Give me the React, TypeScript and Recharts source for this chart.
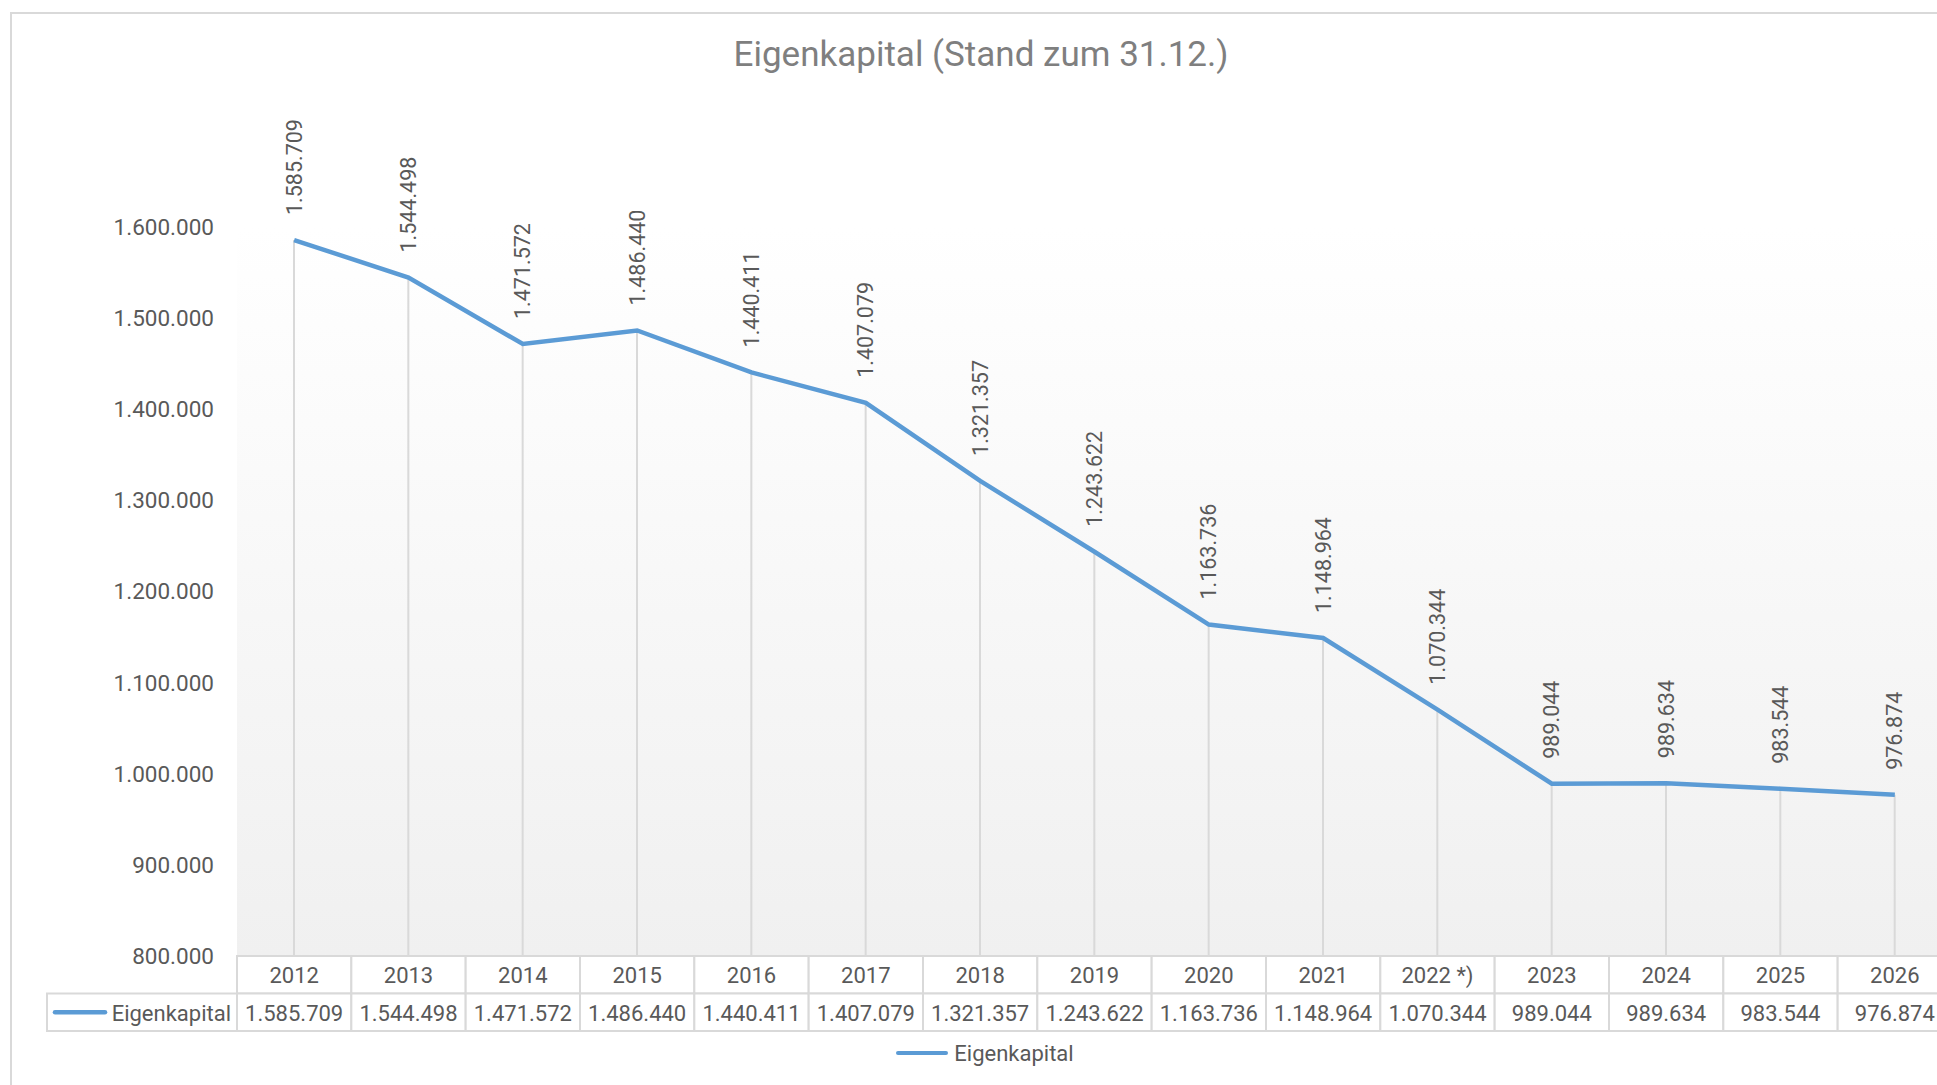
import { ComposedChart, Bar, Line, XAxis, YAxis, CartesianGrid, LabelList, Legend } from "recharts"

const years = ["2012", "2013", "2014", "2015", "2016", "2017", "2018", "2019", "2020", "2021", "2022 *)", "2023", "2024", "2025", "2026"]
const eigenkapital = [1585709, 1544498, 1471572, 1486440, 1440411, 1407079, 1321357, 1243622, 1163736, 1148964, 1070344, 989044, 989634, 983544, 976874]
const yTicks = [800000, 900000, 1000000, 1100000, 1200000, 1300000, 1400000, 1500000, 1600000]

const data = years.map((year, i) => ({ year, value: eigenkapital[i] }))

const fmt = (n: number) => String(n).replace(/\B(?=(\d{3})+(?!\d))/g, ".")

const FONT = "Roboto, 'Open Sans', sans-serif"
const TEXT = "#595959"
const GRID = "#d9d9d9"
const BLUE = "#5b9bd5"

const CHART_W = 1960
const CHART_H = 1085
const Y_AXIS_W = 237
const MARGIN_R = 8
const BAND = (CHART_W - Y_AXIS_W - MARGIN_R) / years.length
const ROW_H = 37.5

function TableTick(props: any) {
  const { x, y, payload } = props
  const i = years.indexOf(payload.value)
  const left = x - BAND / 2
  return (
    <g>
      <rect x={left} y={y} width={BAND} height={ROW_H} fill="#fff" stroke={GRID} strokeWidth={2} />
      <rect x={left} y={y + ROW_H} width={BAND} height={ROW_H} fill="#fff" stroke={GRID} strokeWidth={2} />
      <text x={x} y={y + ROW_H / 2 + 1} textAnchor="middle" dominantBaseline="central" fill={TEXT} fontSize={22} fontFamily={FONT}>
        {payload.value}
      </text>
      <text x={x} y={y + ROW_H * 1.5 + 1} textAnchor="middle" dominantBaseline="central" fill={TEXT} fontSize={22} fontFamily={FONT}>
        {fmt(eigenkapital[i])}
      </text>
      {i === 0 && (
        <g>
          <rect x={47} y={y + ROW_H} width={left - 47} height={ROW_H} fill="#fff" stroke={GRID} strokeWidth={2} />
          <line x1={55} x2={105} y1={y + ROW_H * 1.5} y2={y + ROW_H * 1.5} stroke={BLUE} strokeWidth={4.5} strokeLinecap="round" />
          <text x={left - 6} y={y + ROW_H * 1.5 + 1} textAnchor="end" dominantBaseline="central" fill={TEXT} fontSize={22} fontFamily={FONT}>
            Eigenkapital
          </text>
        </g>
      )}
    </g>
  )
}

function ValueLabel(props: any) {
  const { x, y, value } = props
  const ly = y - 25
  return (
    <text
      x={x}
      y={ly}
      transform={`rotate(-90 ${x} ${ly})`}
      textAnchor="start"
      dominantBaseline="central"
      fill={TEXT}
      fontSize={21.5}
      fontFamily={FONT}
    >
      {fmt(value)}
    </text>
  )
}

function LegendContent() {
  return (
    <div style={{ display: "flex", justifyContent: "center", alignItems: "center", height: 44, paddingLeft: 18, fontFamily: FONT, fontSize: 22, color: TEXT }}>
      <span style={{ display: "inline-block", width: 52, height: 4.5, background: BLUE, borderRadius: 2, marginRight: 6 }} />
      <span>Eigenkapital</span>
    </div>
  )
}

export default function App() {
  return (
    <div style={{ position: "absolute", left: 0, top: 0, width: 1937, height: 1085, overflow: "hidden", background: "#fff" }}>
      <div style={{ position: "absolute", left: 10, top: 12, width: 2000, height: 1200, border: `2px solid ${GRID}` }} />
      <div style={{ position: "absolute", left: 0, top: 34, width: 1962, textAlign: "center", fontFamily: FONT, fontSize: 35, color: "#7f7f7f" }}>
        Eigenkapital (Stand zum 31.12.)
      </div>
      <div style={{ position: "absolute", left: 0, top: 0 }}>
        <ComposedChart width={CHART_W} height={CHART_H} data={data} margin={{ top: 227, right: MARGIN_R, bottom: 10, left: 0 }}>
          <defs>
            <linearGradient id="plotBg" x1="0" y1="0" x2="0" y2="1">
              <stop offset="0%" stopColor="#ffffff" />
              <stop offset="100%" stopColor="#f0f0f0" />
            </linearGradient>
          </defs>
          <CartesianGrid horizontal={false} vertical={false} fill="url(#plotBg)" />
          <XAxis
            dataKey="year"
            scale="band"
            interval={0}
            axisLine={false}
            tickLine={false}
            tickSize={0}
            tickMargin={0}
            height={75}
            tick={<TableTick />}
          />
          <YAxis
            domain={[800000, 1600000]}
            ticks={yTicks}
            width={Y_AXIS_W}
            axisLine={false}
            tickLine={false}
            tickSize={6}
            tickMargin={17}
            tickFormatter={fmt}
            tick={{ fill: TEXT, fontSize: 22.5, fontFamily: FONT }}
          />
          <Bar dataKey="value" barSize={2} fill={GRID} isAnimationActive={false} legendType="none" />
          <Line
            type="linear"
            dataKey="value"
            name="Eigenkapital"
            stroke={BLUE}
            strokeWidth={4.5}
            dot={false}
            activeDot={false}
            isAnimationActive={false}
          >
            <LabelList dataKey="value" content={<ValueLabel />} />
          </Line>
          <Legend verticalAlign="bottom" height={44} content={<LegendContent />} />
        </ComposedChart>
      </div>
    </div>
  )
}
